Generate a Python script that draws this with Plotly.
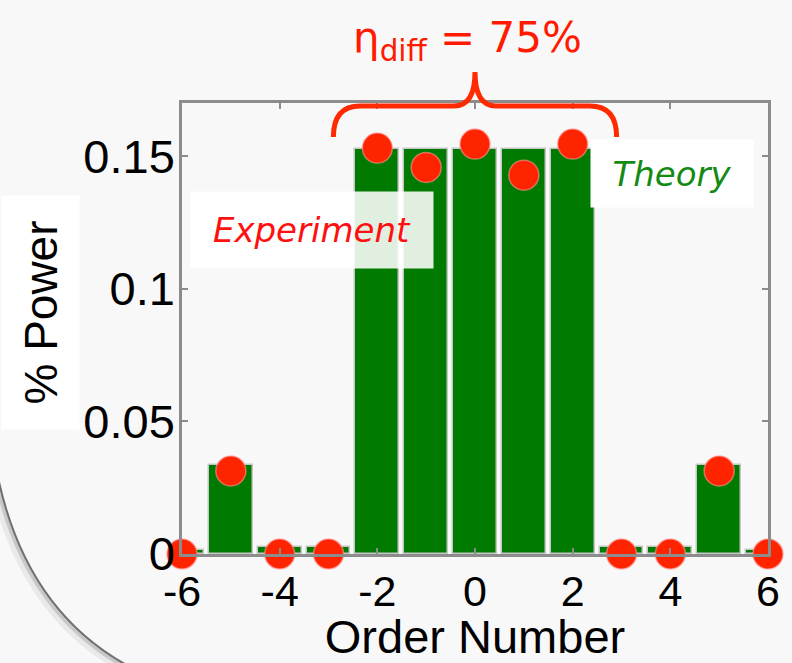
import plotly.graph_objects as go

# Diffraction orders and power fractions
orders = [-6, -5, -4, -3, -2, -1, 0, 1, 2, 3, 4, 5, 6]
theory_power = [0.0015, 0.0336, 0.0027, 0.0027, 0.1527, 0.1527, 0.1527,
                0.1527, 0.1527, 0.0027, 0.0027, 0.0336, 0.0015]
experiment_power = [0.0, 0.0313, 0.0, 0.0, 0.1530, 0.1457, 0.1545,
                    0.1428, 0.1545, 0.0, 0.0, 0.0313, 0.0]

x_tickvals = [-6, -4, -2, 0, 2, 4, 6]
x_ticktext = ["-6", "-4", "-2", "0", "2", "4", "6"]
y_tickvals = [0, 0.05, 0.1, 0.15]
y_ticktext = ["0", "0.05", "0.1", "0.15"]

central_orders = [-2, -1, 0, 1, 2]

W, H = 792, 663
L, R, T, B = 182, 768, 103, 554


def px(x):
    return (x - L) / (R - L)


def py(y):
    return (B - y) / (B - T)


fig = go.Figure()
fig.add_trace(go.Bar(
    x=orders, y=theory_power, width=0.9,
    marker=dict(color="#007a00", line=dict(color="#c6c6c6", width=1.5)),
    showlegend=False,
))
fig.add_trace(go.Scatter(
    x=orders, y=experiment_power, mode="markers",
    marker=dict(size=30, color="#ff2400",
                line=dict(color="rgba(255,150,150,0.6)", width=1.5)),
    cliponaxis=False, showlegend=False,
))

axis_common = dict(
    showline=True, linecolor="#8c8c8c", linewidth=2.5, mirror="ticks",
    ticks="inside", ticklen=6, tickwidth=1.5, tickcolor="#8c8c8c",
    showgrid=False, zeroline=False,
)

fig.update_xaxes(
    range=[-6, 6], tickvals=x_tickvals, ticktext=x_ticktext,
    tickfont=dict(family="Liberation Sans", size=43, color="black"),
    ticklabelstandoff=-2,
    title=dict(text="Order Number", standoff=0,
               font=dict(family="Liberation Sans", size=47, color="black")),
    **axis_common,
)
fig.update_yaxes(
    range=[0, 0.17], tickvals=y_tickvals, ticktext=y_ticktext,
    tickfont=dict(family="Liberation Sans", size=47, color="black"),
    ticklabelstandoff=-5,
    **axis_common,
)

# Bracket over the central orders
x0 = min(central_orders) - 0.9
x1 = max(central_orders) + 0.9
xc = sum(central_orders) / len(central_orders)
ye, yh, yc = py(137), py(106), py(72)
r, rc = 0.55, 0.43
brace = (f"M {x0},{ye} Q {x0},{yh} {x0 + r},{yh} L {xc - rc},{yh} "
         f"Q {xc},{yh} {xc},{yc} Q {xc},{yh} {xc + rc},{yh} "
         f"L {x1 - r},{yh} Q {x1},{yh} {x1},{ye}")

shapes = [dict(type="path", xref="x", yref="paper", path=brace,
               line=dict(color="#ff2a00", width=5), layer="above")]

# Page edge curve with soft shadow
def arc(dx, dy):
    p0 = (-5 + dx, 462 + dy)
    c = (22 + dx, 615 + dy)
    p1 = (140 + dx, 672 + dy)
    return (f"M {px(p0[0])},{py(p0[1])} Q {px(c[0])},{py(c[1])} "
            f"{px(p1[0])},{py(p1[1])}")

for dx, dy, col, w in [(-4, 3, "rgba(0,0,0,0.06)", 9),
                       (-2, 1.5, "rgba(0,0,0,0.14)", 4),
                       (0, 0, "#707070", 2)]:
    shapes.append(dict(type="path", xref="paper", yref="paper",
                       path=arc(dx, dy), line=dict(color=col, width=w),
                       layer="below"))

annotations = [
    dict(text="% Power", x=px(40.5), y=py(312.5), xref="paper", yref="paper",
         textangle=-90, width=231, height=75, bgcolor="white",
         showarrow=False, xanchor="center", yanchor="middle",
         font=dict(family="Liberation Sans", size=46, color="black")),
    dict(text="<i>Experiment</i>", x=px(312), y=py(230), xref="paper",
         yref="paper", width=240, height=74,
         bgcolor="rgba(255,255,255,0.88)", showarrow=False,
         xanchor="center", yanchor="middle",
         font=dict(family="DejaVu Sans", size=34, color="#ff1010")),
    dict(text="<i>Theory</i>", x=px(672), y=py(173.5), xref="paper",
         yref="paper", width=160, height=65, bgcolor="white",
         showarrow=False, xanchor="center", yanchor="middle",
         font=dict(family="DejaVu Sans", size=34, color="#138a13")),
    dict(text="η<sub>diff</sub> = 75%", x=px(467), y=py(40), xref="paper",
         yref="paper", showarrow=False, xanchor="center", yanchor="middle",
         font=dict(family="DejaVu Sans", size=42, color="#ff1a00")),
]

fig.update_layout(
    width=W, height=H,
    margin=dict(l=L, r=W - R, t=T, b=H - B),
    paper_bgcolor="#f8f8f8", plot_bgcolor="#f8f8f8",
    bargap=0, shapes=shapes, annotations=annotations,
)

fig.write_html("out.html")
